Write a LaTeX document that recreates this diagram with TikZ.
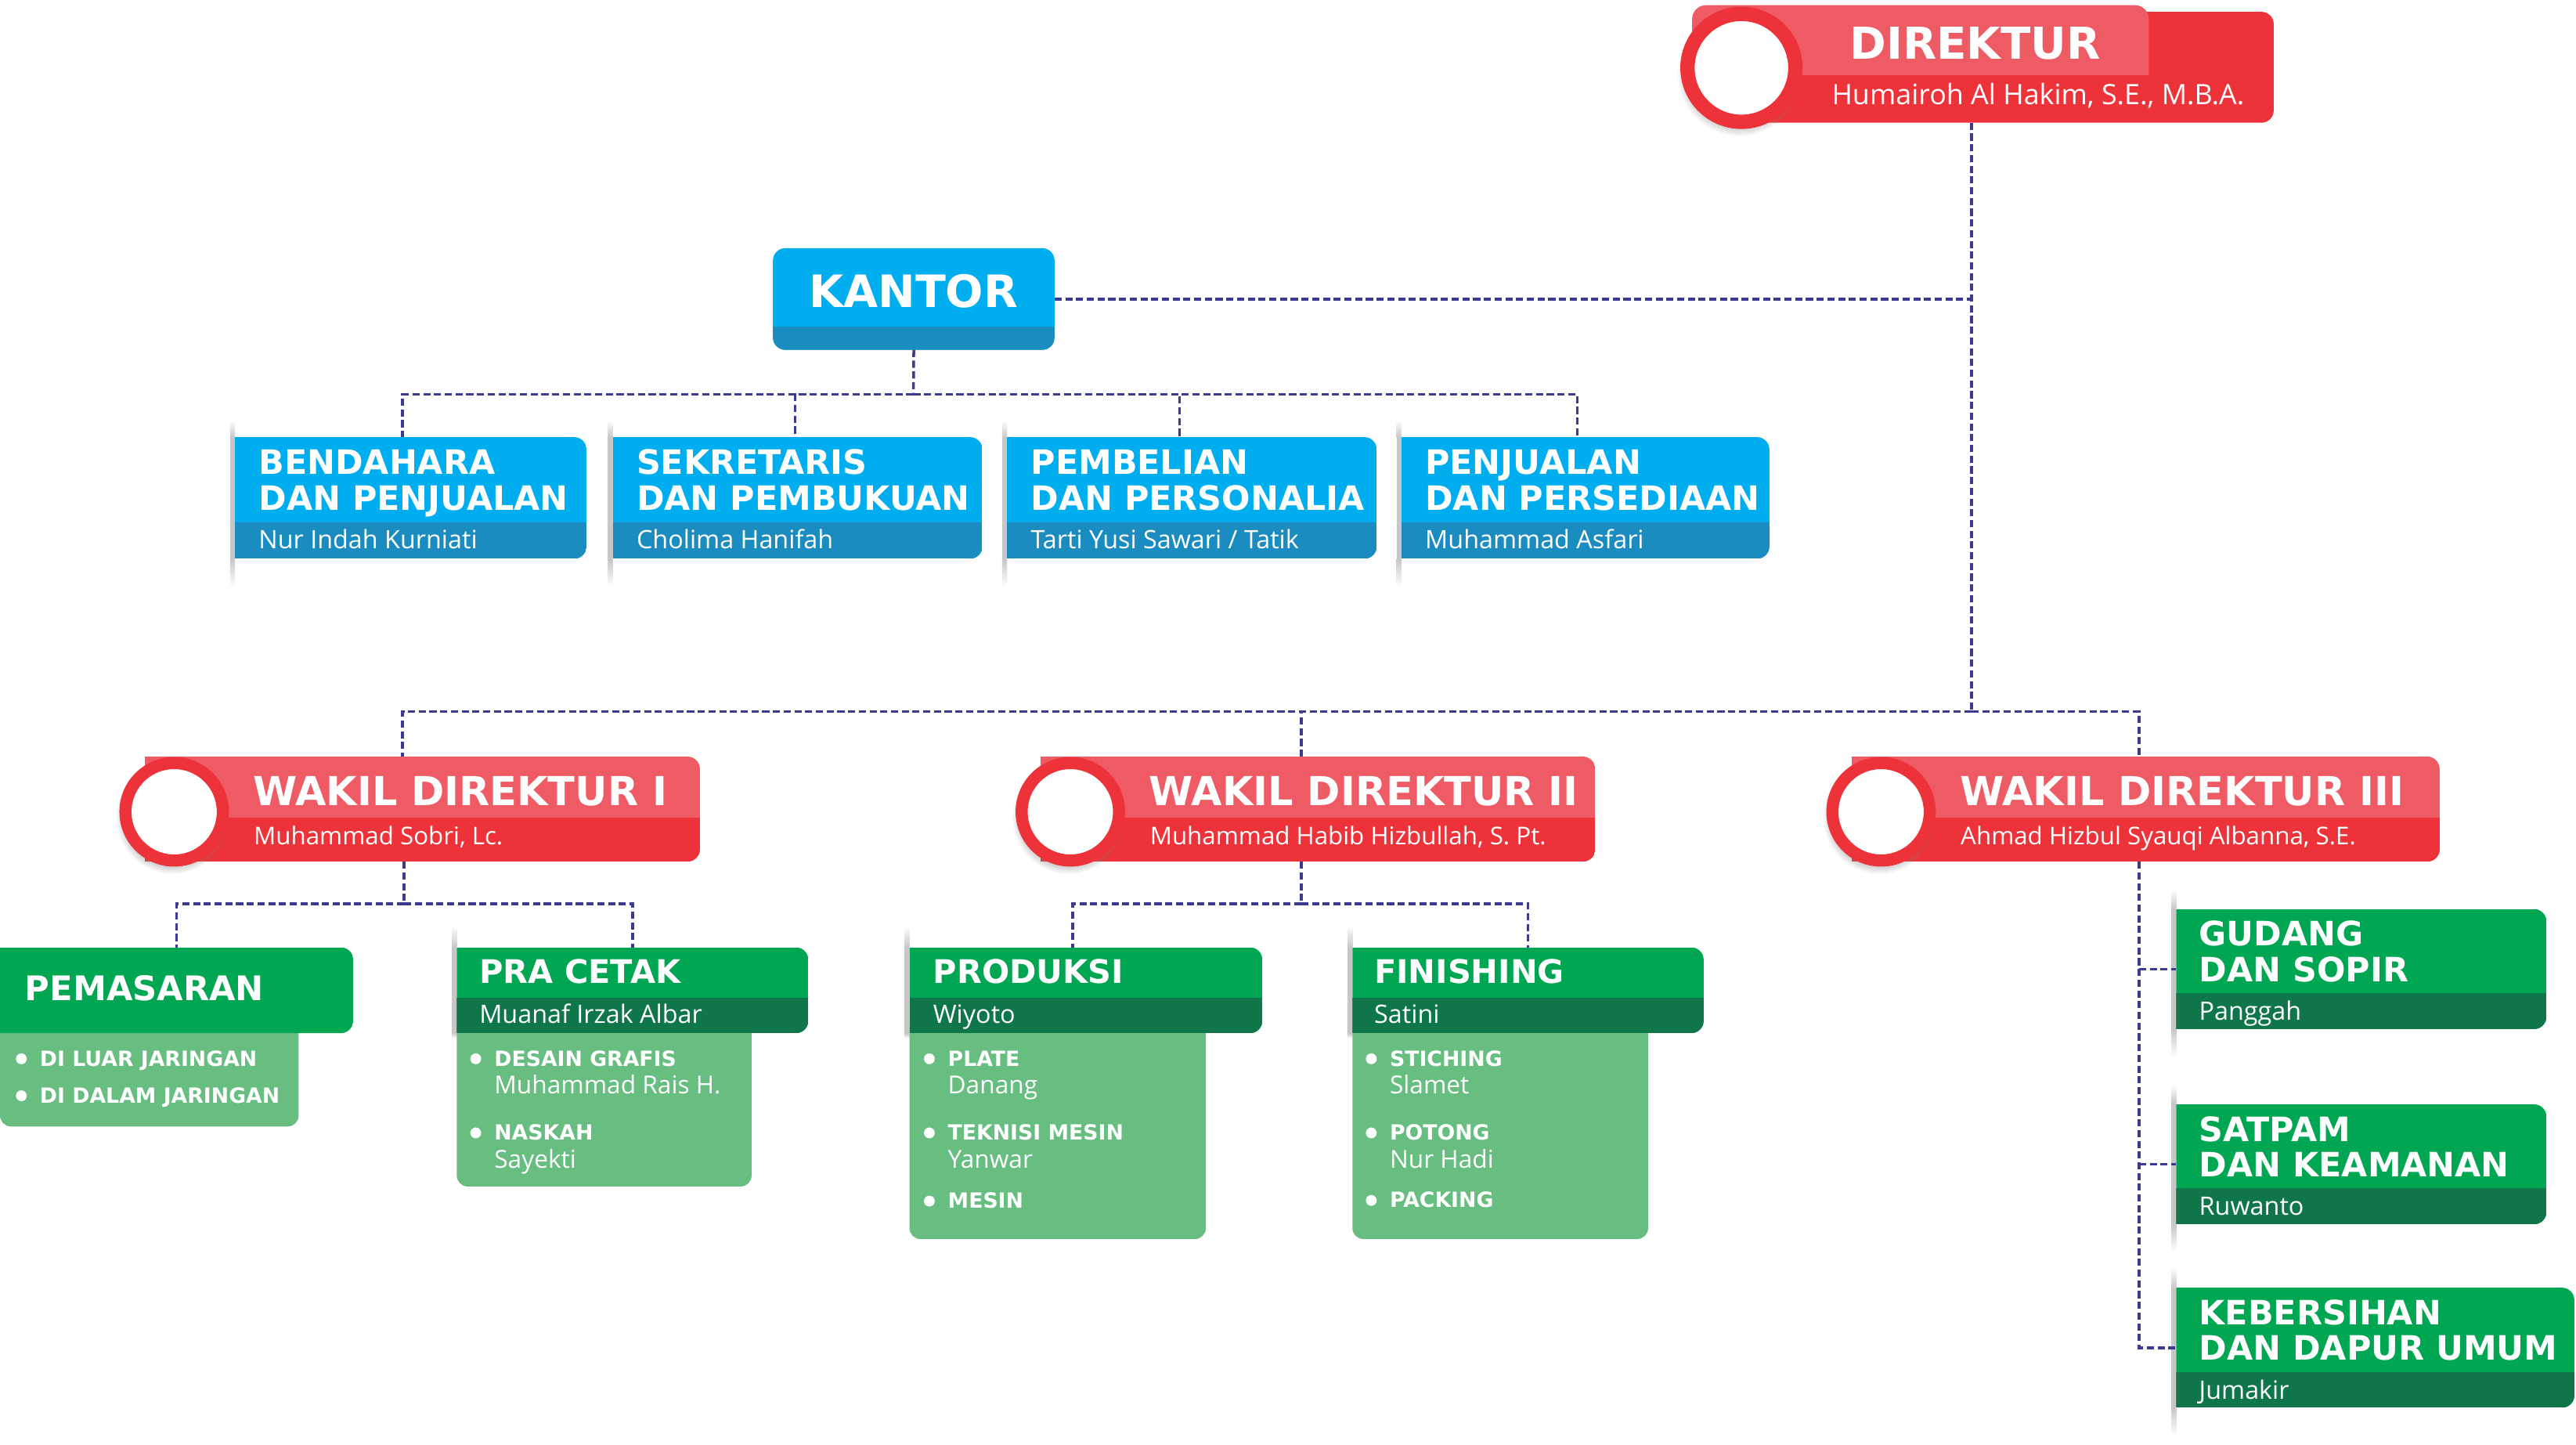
\documentclass[tikz,border=0pt]{standalone}
\usepackage{fontspec}
\setmainfont{Open Sans}
\newfontfamily\headfont{DejaVu Sans}
\usetikzlibrary{calc,fit,shadows}

\definecolor{redmain}{RGB}{237,50,57}
\definecolor{redlight}{RGB}{239,91,100}
\definecolor{bluemain}{RGB}{0,174,239}
\definecolor{bluedark}{RGB}{26,140,192}
\definecolor{greenmain}{RGB}{0,166,81}
\definecolor{greendark}{RGB}{15,118,74}
\definecolor{greenlight}{RGB}{103,190,128}
\definecolor{linkblue}{RGB}{60,58,145}

% box body: square left side, rounded right side, darker band at the bottom
\newcommand{\bandfill}[4]{%
  \begin{scope}
    \clip[rounded corners=4.5pt] ($(#1.north west)+(-12,0)$) rectangle (#1.south east);
    \clip (#1.north west) rectangle ($(#1.south east)+(2,0)$);
    \fill[#2] (#1.north west) rectangle (#1.south east);
    \fill[#3] ($(#1.south west)+(0,-#4)$) rectangle (#1.south east);
  \end{scope}}
% soft shadow on the left edge of a box
\newcommand{\edgeshadow}[3]{%
  \shade[top color=white, bottom color=black!22] ($(#1.north west)+(-3,-#2)$) rectangle (#1.north west);
  \fill[black!22] ($(#1.north west)+(-3,0)$) rectangle (#1.south west);
  \shade[top color=black!22, bottom color=white] ($(#1.south west)+(-3,0)$) rectangle ($(#1.south west)+(0,#3)$);}

\begin{document}
\begin{tikzpicture}[x=0.020982cm, y=-0.020982cm]
\tikzstyle{area} = [inner sep=0pt, outer sep=0pt]
\tikzstyle{link} = [draw=linkblue, line width=1pt, dash pattern=on 2.6pt off 1.3pt]
\tikzstyle{txt} = [inner sep=0pt, outer sep=0pt, text=white, anchor=base west]
\tikzstyle{head} = [txt, font=\headfont\bfseries\fontsize{12.2}{14}\selectfont]
\tikzstyle{bighead} = [txt, font=\headfont\bfseries\fontsize{14.5}{17}\selectfont]
\tikzstyle{grouphead} = [txt, font=\headfont\bfseries\fontsize{11.8}{14}\selectfont]
\tikzstyle{item} = [txt, font=\headfont\bfseries\fontsize{7.6}{9}\selectfont]
\tikzstyle{who} = [txt, font=\fontsize{9.2}{11}\selectfont]
\tikzstyle{sub} = [txt, font=\fontsize{9}{11}\selectfont]
\tikzstyle{ring} = [circle, fill=white, draw=redmain, inner sep=0pt, circular drop shadow={shadow xshift=-0.6pt, shadow yshift=-1.8pt, shadow scale=1.16, opacity=.4}]

\useasboundingbox (0,0) rectangle (1568,879);

% direktur
\node [area, fit={(1040,7.2) (1384,74.7)}] (dir) {};
\fill [redmain, rounded corners=4.5pt] (dir.north west) rectangle (dir.south east);
\begin{scope}
  \clip (1030,0) rectangle (1308,45.3);
  \fill [redlight, rounded corners=5pt] (1030,3.2) rectangle (1308,60);
\end{scope}
\node [ring, line width=5.2pt, minimum size=39.2pt] (dir-c) at (1060,41.3) {};
\node [txt, font=\headfont\bfseries\fontsize{16}{19}\selectfont] (dir-t) at (1126,35.8) {DIREKTUR};
\node [who, font=\fontsize{10.2}{12}\selectfont] (dir-n) at (1115,63.6) {Humairoh Al Hakim, S.E., M.B.A.};

\coordinate (dirbus) at (1200,433);
\draw [link] (dir.south -| dirbus) -- (dirbus);

% kantor
\node [area, fit={(470.5,151) (641.9,212.9)}] (kantor) {};
\fill [bluemain, rounded corners=4.5pt] (kantor.north west) rectangle (kantor.south east);
\begin{scope}
  \clip [rounded corners=4.5pt] (kantor.north west) rectangle (kantor.south east);
  \fill [bluedark] ($(kantor.south west)+(0,-14.3)$) rectangle (kantor.south east);
\end{scope}
\node [txt, anchor=base, font=\headfont\bfseries\fontsize{16.2}{19}\selectfont] (kantor-t) at (556,187.2) {KANTOR};
\draw [link] (kantor.east) -- (kantor.east -| dirbus);

\coordinate (kbus) at (556,240);
\draw [link] (kantor.south) -- (kbus);

\foreach \nm/\xa/\xb/\dx/\la/\lb/\pp in {bendahara/143/357/102/BENDAHARA/DAN PENJUALAN/Nur Indah Kurniati, sekretaris/373/598/111/SEKRETARIS/DAN PEMBUKUAN/Cholima Hanifah, pembelian/613/838/105/PEMBELIAN/DAN PERSONALIA/{Tarti Yusi Sawari / Tatik}, penjualan/853/1077/107/PENJUALAN/DAN PERSEDIAAN/Muhammad Asfari}
{
  \node [area, fit={(\xa,266) (\xb,340)}] (\nm) {};
  \edgeshadow{\nm}{10}{17}
  \bandfill{\nm}{bluemain}{bluedark}{22}
  \node [head] (\nm-a) at ($(\nm.north west)+(14.5,22.4)$) {\la};
  \node [head] (\nm-b) at ($(\nm.north west)+(14.5,44.6)$) {\lb};
  \node [who] (\nm-n) at ($(\nm.north west)+(14.5,68)$) {\pp};
  \draw [link] (kbus) -| ($(\nm.north west)+(\dx,0)$);
}

% wakil direktur
\foreach \nm/\cx/\xb/\dx/\ti/\pp in {wakilsatu/106/426/157/WAKIL DIREKTUR I/{Muhammad Sobri, Lc.}, wakildua/651.5/971/158.5/WAKIL DIREKTUR II/{Muhammad Habib Hizbullah, S. Pt.}, wakiltiga/1145/1485/175/WAKIL DIREKTUR III/{Ahmad Hizbul Syauqi Albanna, S.E.}}
{
  \node [area, fit={(\cx-18,460.4) (\xb,524.3)}] (\nm) {};
  \bandfill{\nm}{redlight}{redmain}{26.7}
  \node [ring, line width=4.4pt, minimum size=35.4pt] (\nm-c) at (\cx,494) {};
  \node [bighead] (\nm-t) at (\cx+48,490) {\ti};
  \node [who, font=\fontsize{8.9}{11}\selectfont] (\nm-n) at (\cx+48.5,514) {\pp};
  \draw [link] (dirbus) -| ($(\nm.north west)+(\dx,0)$);
}

% units under wakil direktur I
\node [area, fit={(0,576.5) (215,628.7)}] (pemasaran) {};
\node [area, fit={(0,628.7) (181.8,685.5)}] (pemasaran-p) {};
\fill [greenlight, rounded corners=4pt] ($(pemasaran-p.north west)+(0,-10)$) rectangle (pemasaran-p.south east);
\bandfill{pemasaran}{greenmain}{greenmain}{0}
\node [grouphead, font=\headfont\bfseries\fontsize{12.3}{14}\selectfont] (pemasaran-t) at (15.2,609) {PEMASARAN};
\node [item] (pemasaran-i1) at (24.3,648.7) {DI LUAR JARINGAN};
\node [item] (pemasaran-i2) at (24.3,671.2) {DI DALAM JARINGAN};

\node [area, fit={(278,576.5) (492,628.7)}] (pracetak) {};
\node [area, fit={(278,628.7) (457.5,722)}] (pracetak-p) {};
\edgeshadow{pracetak}{13}{3}
\fill [greenlight, rounded corners=4pt] ($(pracetak-p.north west)+(0,-10)$) rectangle (pracetak-p.south east);
\bandfill{pracetak}{greenmain}{greendark}{21.5}
\node [grouphead] (pracetak-t) at (291.8,598.5) {PRA CETAK};
\node [who] (pracetak-n) at (291.8,622.8) {Muanaf Irzak Albar};
\node [item] (pracetak-i1) at (300.9,648.7) {DESAIN GRAFIS};
\node [sub] (pracetak-s1) at (300.9,665.7) {Muhammad Rais H.};
\node [item] (pracetak-i2) at (300.9,693.8) {NASKAH};
\node [sub] (pracetak-s2) at (300.9,711) {Sayekti};

\coordinate (w1bus) at (246,550);
\draw [link] (wakilsatu.south -| w1bus) -- (w1bus);
\draw [link] (w1bus) -| (pemasaran.north);
\draw [link] (w1bus) -| (pracetak.north);

% units under wakil direktur II
\node [area, fit={(553.6,576.5) (768.4,628.7)}] (produksi) {};
\node [area, fit={(553.6,628.7) (734,754)}] (produksi-p) {};
\edgeshadow{produksi}{13}{3}
\fill [greenlight, rounded corners=4pt] ($(produksi-p.north west)+(0,-10)$) rectangle (produksi-p.south east);
\bandfill{produksi}{greenmain}{greendark}{21.5}
\node [grouphead] (produksi-t) at (568,598.5) {PRODUKSI};
\node [who] (produksi-n) at (568,622.8) {Wiyoto};
\node [item] (produksi-i1) at (577,648.7) {PLATE};
\node [sub] (produksi-s1) at (577,665.7) {Danang};
\node [item] (produksi-i2) at (577,693.8) {TEKNISI MESIN};
\node [sub] (produksi-s2) at (577,711) {Yanwar};
\node [item] (produksi-i3) at (577,735.3) {MESIN};

\node [area, fit={(823.2,576.5) (1037,628.7)}] (finishing) {};
\node [area, fit={(823.2,628.7) (1003.2,754)}] (finishing-p) {};
\edgeshadow{finishing}{13}{3}
\fill [greenlight, rounded corners=4pt] ($(finishing-p.north west)+(0,-10)$) rectangle (finishing-p.south east);
\bandfill{finishing}{greenmain}{greendark}{21.5}
\node [grouphead] (finishing-t) at (836.5,598.5) {FINISHING};
\node [who] (finishing-n) at (836.5,622.8) {Satini};
\node [item] (finishing-i1) at (846,648.7) {STICHING};
\node [sub] (finishing-s1) at (846,665.7) {Slamet};
\node [item] (finishing-i2) at (846,693.8) {POTONG};
\node [sub] (finishing-s2) at (846,711) {Nur Hadi};
\node [item] (finishing-i3) at (846,734.9) {PACKING};

\coordinate (w2bus) at (792,550);
\draw [link] (wakildua.south -| w2bus) -- (w2bus);
\draw [link] (w2bus) -| ($(produksi.north)+(-8,0)$);
\draw [link] (w2bus) -| (finishing.north);

% bullets
\foreach \bl in {pemasaran-i1,pemasaran-i2,pracetak-i1,pracetak-i2,produksi-i1,produksi-i2,produksi-i3,finishing-i1,finishing-i2,finishing-i3}
  \fill [white] ($(\bl.base west)+(-11.3,-4.4)$) circle (3.3);

% units under wakil direktur III
\node [area, fit={(1324.6,553.2) (1550,626.2)}] (gudang) {};
\node [area, fit={(1324.6,672) (1550,745)}] (satpam) {};
\node [area, fit={(1324.6,783.6) (1567,856.6)}] (kebersihan) {};
\foreach \nm/\la/\lb/\pp in {gudang/GUDANG/DAN SOPIR/Panggah, satpam/SATPAM/DAN KEAMANAN/Ruwanto, kebersihan/KEBERSIHAN/DAN DAPUR UMUM/Jumakir}
{
  \edgeshadow{\nm}{12}{17}
  \bandfill{\nm}{greenmain}{greendark}{21.8}
  \node [head] (\nm-a) at ($(\nm.north west)+(14,22.5)$) {\la};
  \node [head] (\nm-b) at ($(\nm.north west)+(14,44.2)$) {\lb};
  \node [who] (\nm-n) at ($(\nm.north west)+(14,67.6)$) {\pp};
}

\coordinate (w3bus) at (1302,524.3);
\draw [link] (w3bus) |- (kebersihan.west);
\draw [link] (w3bus |- gudang.west) -- (gudang.west);
\draw [link] (w3bus |- satpam.west) -- (satpam.west);
\end{tikzpicture}
\end{document}
